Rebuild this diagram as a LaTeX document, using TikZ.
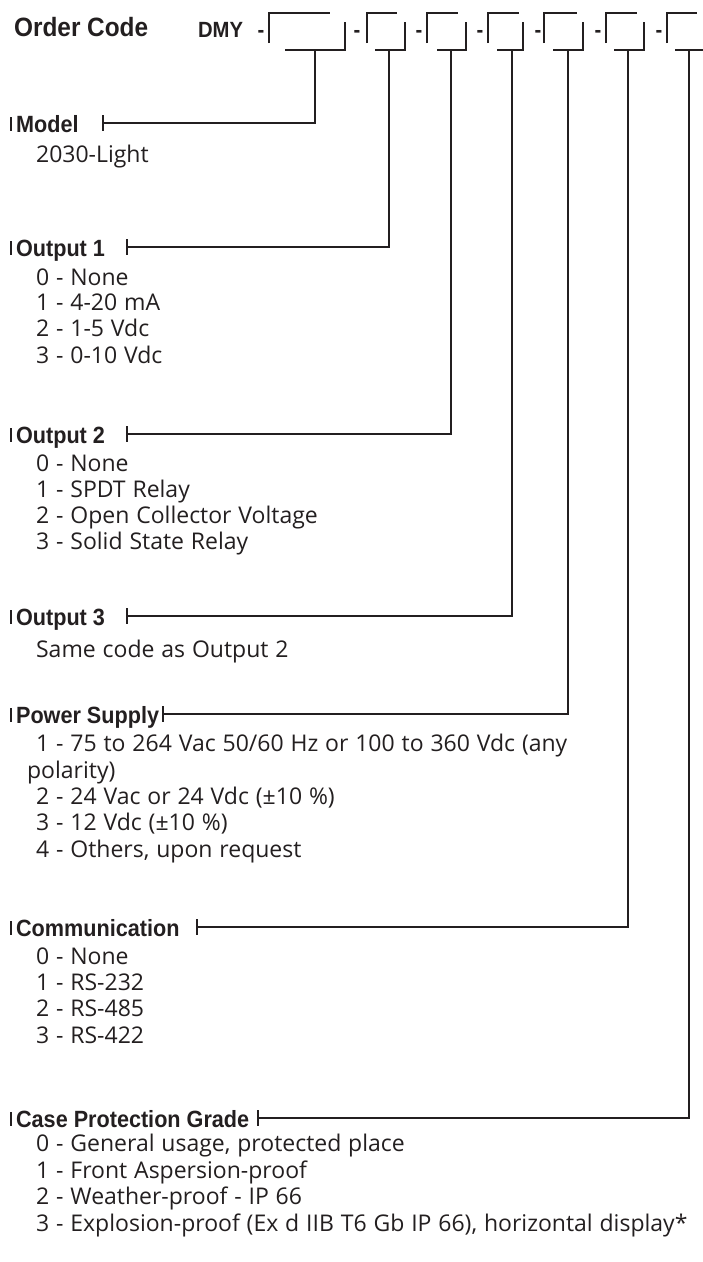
\documentclass[tikz,border=0pt]{standalone}
\usepackage{fontspec}
\setmainfont{Open Sans}[WordSpace=1.15]
\newfontfamily\hdfont[FakeStretch=0.92]{Liberation Sans}
\definecolor{ink}{HTML}{231F20}
\begin{document}
\begin{tikzpicture}[x=1pt,y=-1pt,line width=2.2pt,
  hd/.style={anchor=base west,inner sep=0pt,font=\hdfont\bfseries\fontsize{23.5}{27}\selectfont,text=ink},
  title/.style={anchor=base west,inner sep=0pt,font=\hdfont\bfseries\fontsize{26.5}{30}\selectfont,text=ink},
  code/.style={anchor=base,inner sep=0pt,font=\hdfont\bfseries\fontsize{22}{26}\selectfont,text=ink},
  item/.style={anchor=base west,inner sep=0pt,font=\fontsize{23}{26}\selectfont,text=ink},
  conn/.style={draw=ink,line width=2.2pt},
  bar/.style={draw=ink,line width=1.8pt}]
\useasboundingbox[fill=white] (0,0) rectangle (703,1262);

% header
\node[title] (oc) at (13,36) {Order Code};
\node[code,anchor=base west] (dmy) at (197,37) {DMY};
\foreach \i/\x in {0/261,1/357,2/419,3/480,4/538,5/598,6/659}
  \node[code] (h\i) at (\x,37) {-};

% boxes
\foreach \L/\T/\R/\B in {269/330/345/285,367/397/405/375,427/458/466/437,488/519/523/497,544/577/583/553,606/637/644/614,667/697/712/675}{
  \draw[conn] (\L,43) -- (\L,13) -- (\T,13);
  \draw[conn] (\R,22) -- (\R,50) -- (\B,50);
}
\foreach \i/\x in {1/315,2/389,3/451,4/512,5/568,6/628,7/689}
  \coordinate (s\i) at (\x,50);

% headings with connectors
\foreach \n/\t/\ly/\tx/\s in {model/Model/123/103/1,out1/Output 1/247/127/2,out2/Output 2/434/127/3,out3/Output 3/616/127/4,pow/Power Supply/714/163/5,com/Communication/927/197/6,case/Case Protection Grade/1118/258/7}{
  \node[hd] (\n) at (15,\ly+9) {\t};
  \draw[bar] (11,\ly-6) -- (11,\ly+8);
  \coordinate (t\n) at (\tx,\ly);
  \draw[conn] ([yshift=8pt]t\n) -- ([yshift=-8pt]t\n);
  \draw[conn] (t\n) -| (s\s);
}

% items
\node[item] (m0) at (35,162) {2030-Light};

\node[item] (a0) at (35,285) {0 - None};
\node[item] (a1) at (35,310) {1 - 4-20 mA};
\node[item] (a2) at (35,336) {2 - 1-5 Vdc};
\node[item] (a3) at (35,363) {3 - 0-10 Vdc};

\node[item] (b0) at (35,471) {0 - None};
\node[item] (b1) at (35,497) {1 - SPDT Relay};
\node[item] (b2) at (35,523) {2 - Open Collector Voltage};
\node[item] (b3) at (35,549) {3 - Solid State Relay};

\node[item] (c0) at (35,657) {Same code as Output 2};

\node[item] (p1) at (35,751) {1 - 75 to 264 Vac 50/60 Hz or 100 to 360 Vdc (any};
\node[item] (p1b) at (26,778) {polarity)};
\node[item] (p2) at (35,804) {2 - 24 Vac or 24 Vdc (±10 \%)};
\node[item] (p3) at (35,830) {3 - 12 Vdc (±10 \%)};
\node[item] (p4) at (35,857) {4 - Others, upon request};

\node[item] (d0) at (35,964) {0 - None};
\node[item] (d1) at (35,990) {1 - RS-232};
\node[item] (d2) at (35,1016) {2 - RS-485};
\node[item] (d3) at (35,1043) {3 - RS-422};

\node[item] (e0) at (35,1151) {0 - General usage, protected place};
\node[item] (e1) at (35,1178) {1 - Front Aspersion-proof};
\node[item] (e2) at (35,1204) {2 - Weather-proof - IP 66};
\node[item] (e3) at (35,1231) {3 - Explosion-proof (Ex d IIB T6 Gb IP 66), horizontal display*};
\end{tikzpicture}
\end{document}
